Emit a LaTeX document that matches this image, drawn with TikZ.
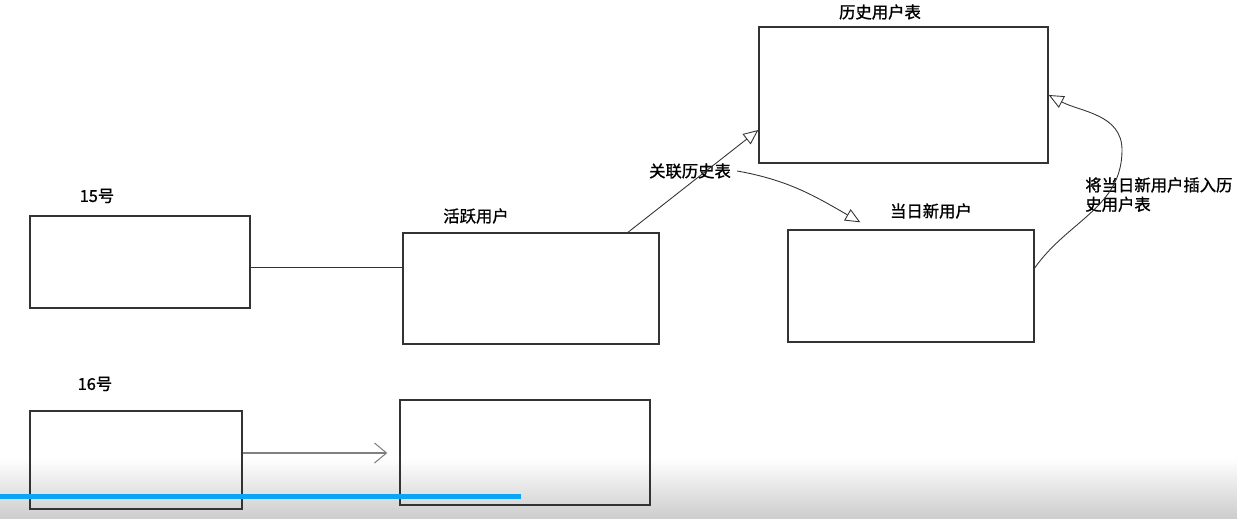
\documentclass[tikz,border=0pt]{standalone}
\usepackage{fontspec}
\newfontfamily\cjk{Noto Sans CJK SC}[FakeBold=1.2]
\usetikzlibrary{arrows.meta,positioning,calc}
\definecolor{linegray}{HTML}{333333}
\definecolor{barblue}{HTML}{0AA5F5}

\begin{document}
\begin{tikzpicture}[
  x=0.02cm,y=-0.02cm,
  box/.style={draw=linegray,line width=0.8pt,inner sep=0pt},
  lbl/.style={font=\cjk\fontsize{9.3}{11}\selectfont,text=black},
  link/.style={draw=linegray,line width=0.5pt,-{Triangle[open,length=0.3cm,width=0.26cm]}},
]
  \useasboundingbox (0,0) rectangle (1237,519);
  \shade[top color=white,bottom color=black!20] (0,458) rectangle (1237,519);

  \node[box,minimum width=4.4cm,minimum height=1.84cm] (d15) at (140,262) {};
  \node[box,minimum width=4.24cm,minimum height=1.96cm] (d16) at (136,460) {};
  \node[box,minimum width=5.12cm,minimum height=2.22cm] (act) at (531,288.5) {};
  \node[box,minimum width=5cm,minimum height=2.1cm] (act16) at (525,452.5) {};
  \node[box,minimum width=5.78cm,minimum height=2.72cm] (hist) at (903.5,95) {};
  \node[box,minimum width=4.92cm,minimum height=2.24cm] (newu) at (911,286) {};

  \node[lbl] (t15) at (97,196) {15号};
  \node[lbl] (t16) at (95,384) {16号};
  \node[lbl] (tact) at (476,216) {活跃用户};
  \node[lbl] (thist) at (880,12) {历史用户表};
  \node[lbl] (tnewu) at (931,211) {当日新用户};
  \node[lbl] (rel) at (690,171) {关联历史表};
  \node[lbl,align=left,anchor=north west,inner sep=0pt] (ins) at (1085,177) {将当日新用户插入历\\史用户表};

  \draw[linegray,line width=0.5pt] (d15.east) ++(0,5) coordinate (j15) -- (j15 -| act.west);
  \draw[gray,line width=0.6pt,-{Straight Barb[length=0.24cm,width=0.4cm]},shorten >=0.24cm]
    (d16.east) ++(0,-7) coordinate (j16) -- (j16 -| act16.west);
  \draw[link] ([xshift=1.94cm]act.north) -- ([yshift=-0.7cm]hist.west);
  \coordinate (tipn) at ([xshift=1.46cm,yshift=0.14cm]newu.north west);
  \draw[link] (rel.east) to[out=-10,in=150] (tipn);
  \coordinate (bend) at (1122,150);
  \draw[link] ([yshift=0.36cm]newu.east) to[out=55,in=-90] (bend) to[out=90,in=-28] (hist.east);

  \fill[barblue] (0,494) rectangle (521,499);
\end{tikzpicture}
\end{document}
